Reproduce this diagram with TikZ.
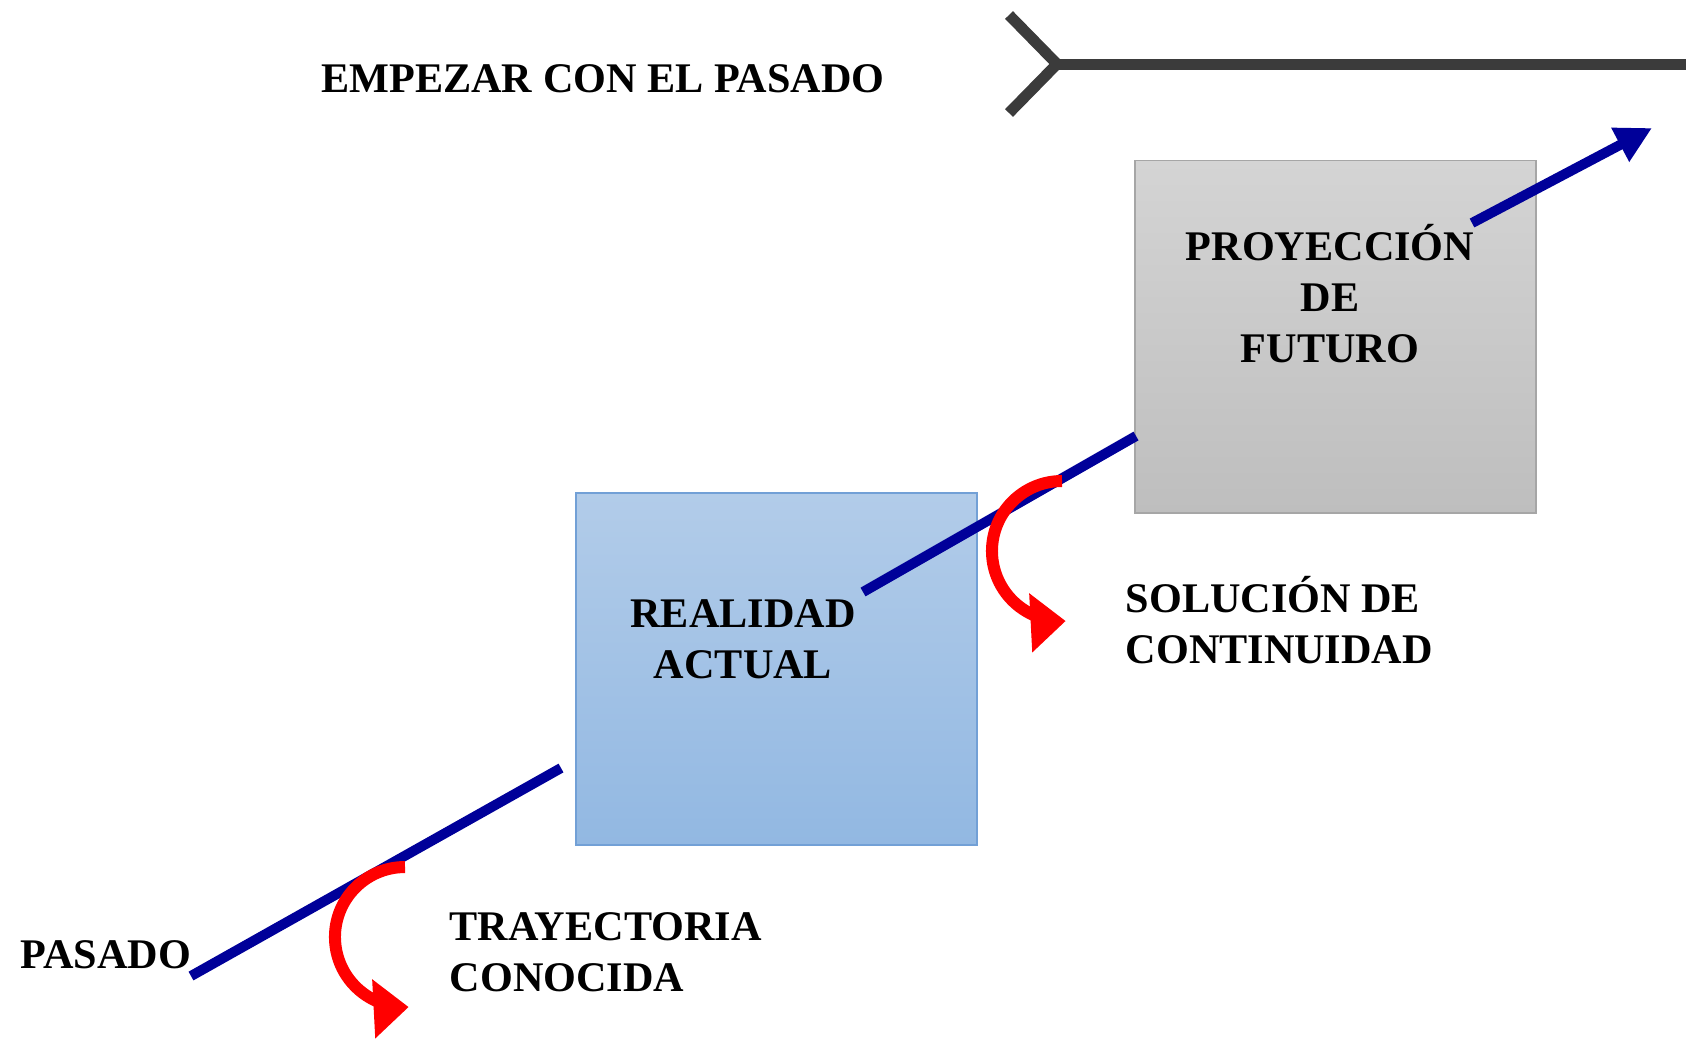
\documentclass[tikz,border=0pt]{standalone}
\usepackage{fontspec}
\setmainfont{Liberation Serif}
\usetikzlibrary{arrows.meta}
\definecolor{forkGray}{RGB}{59,59,59}
\definecolor{lineBlue}{RGB}{0,0,153}
\definecolor{blueTop}{RGB}{178,204,233}
\definecolor{blueBottom}{RGB}{146,184,226}
\definecolor{blueEdge}{RGB}{114,160,214}
\definecolor{grayTop}{RGB}{212,212,212}
\definecolor{grayBottom}{RGB}{190,190,190}
\definecolor{grayEdge}{RGB}{166,166,166}
\newcommand{\fork}{%%
  %% The fork and the long line at the top.
  \draw[forkStyle] (forkTop) -- (forkTip) -- (forkBottom);
  \draw[forkStyle] (forkTip) -- (forkEnd);
}
\newcommand{\turnArrow}[1]{%%
  %% A red arrow turning down off the line.
  \draw[turnStyle] (#1) arc[start angle=90,end angle=273,radius=0.7cm];
}

\begin{document}
\begin{tikzpicture}[%%
  x=0.01cm,y=-0.01cm,%%
  labelStyle/.style={font=\fontsize{12}{14.5}\selectfont\bfseries,inner sep=0pt},%%
  boxStyle/.style={draw,line width=0.5pt,inner sep=0pt,minimum width=4.01cm,minimum height=3.52cm},%%
  trackStyle/.style={lineBlue,line width=0.1cm},%%
  turnStyle/.style={red,line width=0.12cm,-{Triangle[length=0.35cm,width=0.57cm]}},%%
  forkStyle/.style={forkGray,line width=0.11cm}
]
\useasboundingbox (0,0) rectangle (1686,1038);
%%
%%
\coordinate (forkTop) at (1009,15);
\coordinate (forkTip) at (1057,64);
\coordinate (forkBottom) at (1009,113);
\coordinate (forkEnd) at (1686,64);
\coordinate (pastStart) at (191,976);
\coordinate (pastEnd) at (561,768);
\coordinate (nowStart) at (863,592);
\coordinate (nowEnd) at (1136,436);
\coordinate (futureStart) at (1472,223);
\coordinate (futureEnd) at (1652,128);
\coordinate (knownTurn) at (405,867);
\coordinate (solutionTurn) at (1062,481);
%%
%%
%% The two boxes.
\node[boxStyle,draw=blueEdge,top color=blueTop,bottom color=blueBottom] (actual) at (776.5,669) {};
\node[boxStyle,draw=grayEdge,top color=grayTop,bottom color=grayBottom] (future) at (1335.5,336.5) {};
%% Texts (a node of several lines sits on its last line).
\node[labelStyle,anchor=base] (title) at (603,92) {EMPEZAR CON EL PASADO};
\node[labelStyle,align=center,anchor=base] (futureText) at (1330,362) {PROYECCIÓN\\DE\\FUTURO};
\node[labelStyle,align=center,anchor=base] (actualText) at (743,678) {REALIDAD\\ACTUAL};
\node[labelStyle,anchor=base west] (past) at (20,968) {PASADO};
\node[labelStyle,align=left,anchor=base west] (known) at (449,991) {TRAYECTORIA\\CONOCIDA};
\node[labelStyle,align=left,anchor=base west] (solution) at (1125,663) {SOLUCIÓN DE\\CONTINUIDAD};
\fork
%% The blue track from the past into the future.
\draw[trackStyle] (pastStart) -- (pastEnd);
\draw[trackStyle] (nowStart) -- (nowEnd);
\draw[trackStyle,-{Triangle[length=0.36cm,width=0.36cm]}] (futureStart) -- (futureEnd);
\turnArrow{knownTurn}
\turnArrow{solutionTurn}
\end{tikzpicture}
\end{document}
